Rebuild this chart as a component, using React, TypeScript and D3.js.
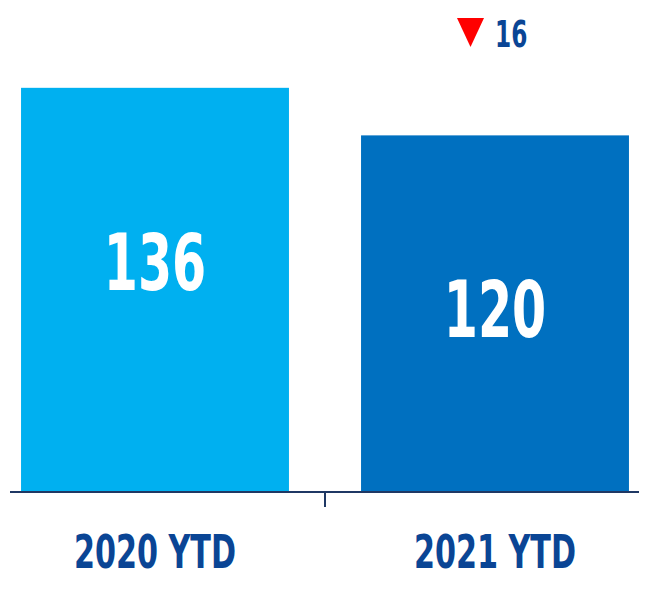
import React from "react";
import * as d3 from "d3";

const categories = ["2020 YTD", "2021 YTD"];
const values = [136, 120];
const barColors = ["#00b0f0", "#0070c0"];
const changeValue = 16;

const W = 649;
const H = 590;
const FONT = "Impact, 'Liberation Sans Narrow', 'DejaVu Sans Condensed', sans-serif";

// squeeze text horizontally around its anchor x to get a condensed look
const squeeze = (cx: number, k: number) =>
  `translate(${cx},0) scale(${k},1) translate(${-cx},0)`;

export default function App() {
  const x = d3
    .scaleBand()
    .domain(categories)
    .range([-15, 665])
    .paddingInner(0.212)
    .paddingOuter(0.106);

  const y = d3.scaleLinear().domain([0, 160]).range([492, 16.5]);

  const bw = x.bandwidth();
  const mid = (x(categories[1]) ?? 0) - (x.step() - bw) / 2;
  const last = categories[categories.length - 1];
  const cx = (x(last) ?? 0) + bw / 2;

  return (
    <svg
      width={W}
      height={H}
      style={{ position: "absolute", left: 0, top: 0, background: "#fff" }}
    >
      {/* bars */}
      {categories.map((c, i) => (
        <rect
          key={c}
          x={x(c)}
          y={y(values[i])}
          width={bw}
          height={y(0) - y(values[i])}
          fill={barColors[i]}
        />
      ))}

      {/* value labels inside bars */}
      {categories.map((c, i) => {
        const px = (x(c) ?? 0) + bw / 2;
        return (
          <text
            key={c + "-v"}
            x={px}
            y={y(values[i]) + 202}
            textAnchor="middle"
            fill="#fff"
            fontFamily={FONT}
            fontWeight="bold"
            fontSize={78}
            transform={squeeze(px, 0.7)}
          >
            {values[i]}
          </text>
        );
      })}

      {/* axis */}
      <line x1={10} x2={639} y1={y(0)} y2={y(0)} stroke="#1f3864" strokeWidth={2} />
      <line x1={mid} x2={mid} y1={y(0)} y2={y(0) + 15} stroke="#1f3864" strokeWidth={2} />

      {categories.map((c) => {
        const px = (x(c) ?? 0) + bw / 2;
        return (
          <text
            key={c + "-l"}
            x={px}
            y={568}
            textAnchor="middle"
            fill="#0a4595"
            fontFamily={FONT}
            fontWeight="bold"
            fontSize={46}
            transform={squeeze(px, 0.73)}
          >
            {c}
          </text>
        );
      })}

      {/* change indicator */}
      <path
        d={`M${cx - 38},18 L${cx - 11},18 L${cx - 24.5},47 Z`}
        fill="#ff0000"
      />
      <text
        x={cx}
        y={47}
        fill="#0a4595"
        fontFamily={FONT}
        fontWeight="bold"
        fontSize={38}
        transform={squeeze(cx, 0.68)}
      >
        {changeValue}
      </text>
    </svg>
  );
}
